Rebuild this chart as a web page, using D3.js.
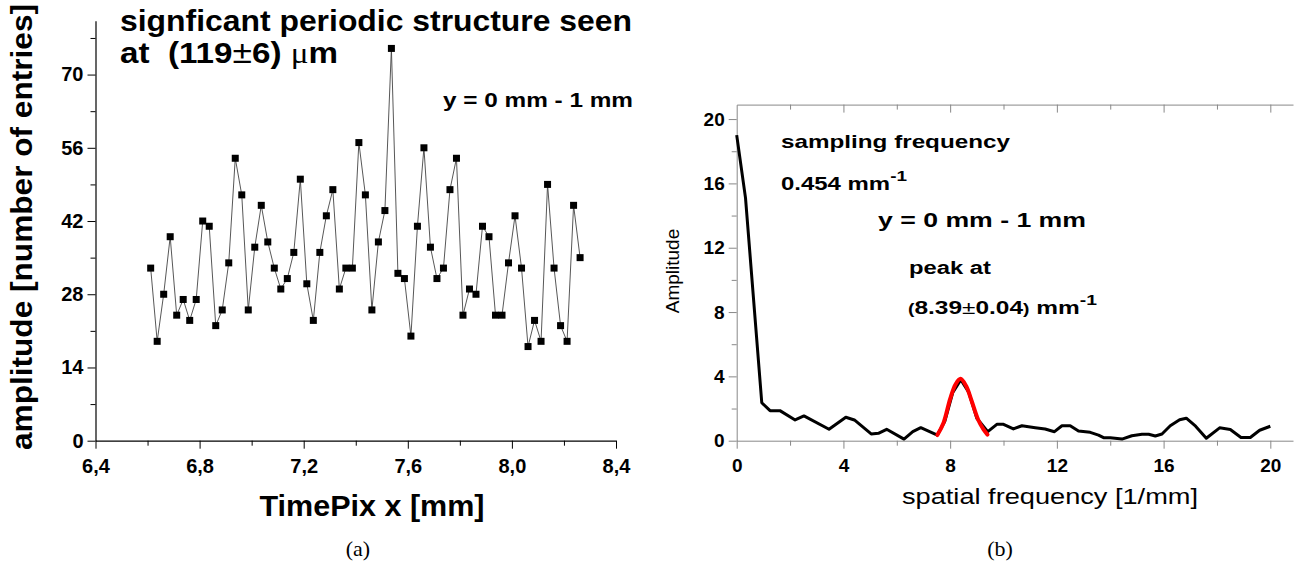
<!DOCTYPE html>
<html>
<head>
<meta charset="utf-8">
<script src="https://cdn.jsdelivr.net/npm/d3@7"></script>
<style>
  body { margin: 0; background: #fff; }
  text { font-family: "Liberation Sans", Arial, sans-serif; }
</style>
</head>
<body>
<div id="chart"></div>
<script>
// (a) TimePix profile
const posX = [
  6.612, 6.637, 6.662, 6.687, 6.712, 6.737, 6.762, 6.787, 6.812, 6.837,
  6.862, 6.887, 6.912, 6.937, 6.962, 6.987, 7.012, 7.037, 7.062, 7.087,
  7.112, 7.137, 7.162, 7.187, 7.212, 7.237, 7.262, 7.287, 7.312, 7.337,
  7.362, 7.387, 7.412, 7.437, 7.462, 7.487, 7.512, 7.537, 7.562, 7.587,
  7.612, 7.637, 7.662, 7.687, 7.712, 7.737, 7.762, 7.787, 7.812, 7.837,
  7.862, 7.887, 7.912, 7.937, 7.962, 7.987, 8.012, 8.037, 8.062, 8.087,
  8.112, 8.137, 8.162, 8.187, 8.212, 8.237, 8.262
];
const entries = [
  33, 19, 28, 39, 24, 27, 23, 27, 42, 41,
  22, 25, 34, 54, 47, 25, 37, 45, 38, 33,
  29, 31, 36, 50, 30, 23, 36, 43, 48, 29,
  33, 33, 57, 47, 25, 38, 44, 75, 32, 31,
  20, 41, 56, 37, 31, 33, 48, 54, 24, 29,
  28, 41, 39, 24, 24, 34, 43, 33, 18, 23,
  19, 49, 33, 22, 19, 45, 35
];
const leftYTicks = [0, 14, 28, 42, 56, 70];
const leftYMinor = [7, 21, 35, 49, 63, 77];
const leftXTicks = [6.4, 6.8, 7.2, 7.6, 8.0, 8.4];
const leftXMinor = [6.6, 7.0, 7.4, 7.8, 8.2];

// (b) spectrum
const freq = [
  0, 0.33, 0.94, 1.25, 1.62, 2.19, 2.52, 3.46, 4.09, 4.41,
  5.04, 5.31, 5.62, 6.27, 6.6, 6.9, 7.52, 7.8, 8.1, 8.4,
  8.7, 9.0, 9.41, 9.75, 10.0, 10.37, 10.69, 11.19, 11.56, 11.91,
  12.19, 12.5, 12.81, 13.25, 13.56, 13.75, 14.0, 14.44, 14.81, 15.19,
  15.44, 15.69, 15.94, 16.25, 16.6, 16.85, 17.2, 17.6, 18.1, 18.5,
  18.9, 19.25, 19.6, 20.0
];
const amp = [
  19.0, 15.1, 2.36, 1.87, 1.87, 1.29, 1.54, 0.71, 1.46, 1.29,
  0.42, 0.46, 0.71, 0.1, 0.56, 0.81, 0.35, 1.2, 3.0, 3.8,
  3.0, 1.4, 0.56, 1.02, 1.02, 0.73, 0.93, 0.81, 0.73, 0.56,
  0.93, 0.93, 0.6, 0.52, 0.35, 0.19, 0.19, 0.1, 0.31, 0.4,
  0.4, 0.29, 0.42, 0.93, 1.3, 1.4, 0.9, 0.15, 0.8, 0.7,
  0.2, 0.2, 0.65, 0.9
];
const fitFreq = [7.52, 7.75, 8.0, 8.2, 8.39, 8.6, 8.8, 9.05, 9.25, 9.4];
const fitAmp = [0.35, 1.1, 2.6, 3.5, 3.85, 3.4, 2.5, 1.3, 0.7, 0.38];
const rightTicks = [0, 4, 8, 12, 16, 20];
const rightMinor = [2, 6, 10, 14, 18];

const width = 1301, height = 564;
const sans = '"Liberation Sans", Arial, sans-serif';
const serif = '"Liberation Serif", "DejaVu Serif", serif';

const svg = d3.select('#chart')
  .append('svg')
  .attr('width', width)
  .attr('height', height);

// text helper: the original lettering is stretched wide, so fix the run length
function label(x, y, str, size, bold, len) {
  const t = svg.append('text')
    .attr('x', x).attr('y', y)
    .style('font-size', size + 'px')
    .style('font-weight', bold ? 'bold' : 'normal')
    .style('white-space', 'pre')
    .text(str);
  if (len) t.attr('textLength', len).attr('lengthAdjust', 'spacingAndGlyphs');
  return t;
}

// ---------- left panel ----------
const xL = d3.scaleLinear().domain([6.4, 8.4]).range([95.5, 616]);
const yL = d3.scaleLinear().domain([0, 80.3]).range([440.7, 20.7]);

svg.append('g')
  .attr('transform', `translate(0,${yL(0)})`)
  .call(d3.axisBottom(xL).tickValues(leftXMinor).tickSize(5).tickFormat(''))
  .call(g => g.select('.domain').remove());

svg.append('g')
  .attr('transform', `translate(0,${yL(0)})`)
  .call(d3.axisBottom(xL).tickValues(leftXTicks).tickSize(8).tickSizeOuter(0)
    .tickFormat(d => d3.format('.1f')(d).replace('.', ',')))
  .call(g => g.selectAll('.tick text')
    .attr('dy', '1.05em')
    .style('font-size', '20px')
    .style('font-weight', 'bold')
    .style('font-family', sans));

svg.append('g')
  .attr('transform', `translate(${xL(6.4)},0)`)
  .call(d3.axisLeft(yL).tickValues(leftYMinor).tickSize(5).tickFormat(''))
  .call(g => g.select('.domain').remove());

svg.append('g')
  .attr('transform', `translate(${xL(6.4)},0)`)
  .call(d3.axisLeft(yL).tickValues(leftYTicks).tickSize(8).tickSizeOuter(0))
  .call(g => g.selectAll('.tick text')
    .attr('x', -12)
    .style('font-size', '20px')
    .style('font-weight', 'bold')
    .style('font-family', sans));

svg.selectAll('.domain').attr('stroke', '#000').attr('stroke-width', 1.2);

const pts = posX.map((x, i) => ({ x, y: entries[i] }));

svg.append('path')
  .datum(pts)
  .attr('fill', 'none')
  .attr('stroke', '#444')
  .attr('stroke-width', 0.9)
  .attr('d', d3.line().x(d => xL(d.x)).y(d => yL(d.y)));

svg.selectAll('.sq')
  .data(pts)
  .enter().append('rect')
  .attr('class', 'sq')
  .attr('x', d => xL(d.x) - 3.5)
  .attr('y', d => yL(d.y) - 3.5)
  .attr('width', 7)
  .attr('height', 7)
  .attr('fill', '#000');

label(120, 31, 'signficant periodic structure seen', 29, true, 512);

const at = label(120, 63, '', 29, true, 218);
at.append('tspan').text('at  (119');
at.append('tspan').style('font-weight', 'normal').style('font-size', '31px').text('\u00B1');
at.append('tspan').text('6) ');
at.append('tspan').style('font-family', serif).style('font-weight', 'normal').text('\u03BC');
at.append('tspan').text('m');

label(443, 107, 'y = 0 mm - 1 mm', 20, true, 190);

svg.append('text')
  .attr('transform', 'rotate(-90)')
  .attr('x', -227).attr('y', 32)
  .style('text-anchor', 'middle')
  .style('font-size', '29px').style('font-weight', 'bold')
  .attr('textLength', 446).attr('lengthAdjust', 'spacingAndGlyphs')
  .text('amplitude [number of entries]');

svg.append('text')
  .attr('x', 372).attr('y', 516)
  .style('text-anchor', 'middle')
  .style('font-size', '29px').style('font-weight', 'bold')
  .attr('textLength', 225).attr('lengthAdjust', 'spacingAndGlyphs')
  .text('TimePix x [mm]');

svg.append('text')
  .attr('x', 358).attr('y', 556)
  .style('text-anchor', 'middle')
  .style('font-family', serif)
  .style('font-size', '22px')
  .text('(a)');

// ---------- right panel ----------
const xR = d3.scaleLinear().domain([0, 20.85]).range([736.7, 1293]);
const yR = d3.scaleLinear().domain([0, 20.9]).range([440.7, 104.6]);
const grey = '#888';

function styleGrey(g) {
  g.select('.domain').attr('stroke', grey);
  g.selectAll('.tick line').attr('stroke', grey);
  g.selectAll('.tick text')
    .style('font-size', '19px')
    .style('font-weight', 'bold')
    .style('font-family', sans)
    .attr('fill', '#000');
}

svg.append('g')
  .attr('transform', `translate(0,${yR(0)})`)
  .call(d3.axisBottom(xR).tickValues(rightMinor).tickSize(5).tickFormat(''))
  .call(g => g.select('.domain').remove())
  .call(styleGrey);

svg.append('g')
  .attr('transform', `translate(0,${yR(0)})`)
  .call(d3.axisBottom(xR).tickValues(rightTicks).tickSize(8).tickSizeOuter(0))
  .call(g => g.selectAll('.tick text').attr('dy', '1.05em'))
  .call(styleGrey);

svg.append('g')
  .attr('transform', `translate(0,${yR.range()[1]})`)
  .call(d3.axisTop(xR).tickValues(rightMinor).tickSize(-5).tickFormat(''))
  .call(g => g.select('.domain').remove())
  .call(styleGrey);

svg.append('g')
  .attr('transform', `translate(0,${yR.range()[1]})`)
  .call(d3.axisTop(xR).tickValues(rightTicks.slice(1)).tickSize(-8).tickSizeOuter(0).tickFormat(''))
  .call(styleGrey);

svg.append('g')
  .attr('transform', `translate(${xR(0)},0)`)
  .call(d3.axisLeft(yR).tickValues(rightMinor).tickSize(5).tickFormat(''))
  .call(g => g.select('.domain').remove())
  .call(styleGrey);

svg.append('g')
  .attr('transform', `translate(${xR(0)},0)`)
  .call(d3.axisLeft(yR).tickValues(rightTicks).tickSize(8).tickSizeOuter(0))
  .call(g => g.selectAll('.tick text').attr('x', -12))
  .call(styleGrey);

const spec = freq.map((f, i) => ({ f, a: amp[i] }));
const fit = fitFreq.map((f, i) => ({ f, a: fitAmp[i] }));

svg.append('path')
  .datum(spec)
  .attr('fill', 'none')
  .attr('stroke', '#000')
  .attr('stroke-width', 3)
  .attr('stroke-linejoin', 'round')
  .attr('d', d3.line().x(d => xR(d.f)).y(d => yR(d.a)));

svg.append('path')
  .datum(fit)
  .attr('fill', 'none')
  .attr('stroke', '#ff0000')
  .attr('stroke-width', 4)
  .attr('stroke-linecap', 'round')
  .attr('d', d3.line().x(d => xR(d.f)).y(d => yR(d.a)).curve(d3.curveCatmullRom));

label(781, 148, 'sampling frequency', 19, true, 229);

const samp = label(781, 190, '', 19, true, 126);
samp.append('tspan').text('0.454 mm');
samp.append('tspan').attr('dy', -9).style('font-size', '15px').text('-1');

label(878, 227, 'y = 0 mm - 1 mm', 21, true, 208);
label(909, 274, 'peak at', 18, true, 82);

const peak = label(908, 314, '', 19, true, 189);
peak.append('tspan').style('font-size', '15px').text('(');
peak.append('tspan').text('8.39');
peak.append('tspan').style('font-weight', 'normal').text('\u00B1');
peak.append('tspan').text('0.04');
peak.append('tspan').style('font-size', '15px').text(')');
peak.append('tspan').text(' mm');
peak.append('tspan').attr('dy', -9).style('font-size', '15px').text('-1');

svg.append('text')
  .attr('transform', 'rotate(-90)')
  .attr('x', -271).attr('y', 679)
  .style('text-anchor', 'middle')
  .style('font-size', '19px')
  .text('Amplitude');

svg.append('text')
  .attr('x', 1050).attr('y', 504)
  .style('text-anchor', 'middle')
  .style('font-size', '22px')
  .attr('textLength', 296).attr('lengthAdjust', 'spacingAndGlyphs')
  .text('spatial frequency [1/mm]');

svg.append('text')
  .attr('x', 1000).attr('y', 556)
  .style('text-anchor', 'middle')
  .style('font-family', serif)
  .style('font-size', '22px')
  .text('(b)');
</script>
</body>
</html>
